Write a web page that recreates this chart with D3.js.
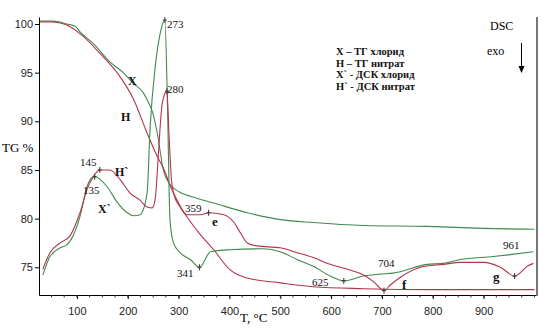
<!DOCTYPE html>
<html><head><meta charset="utf-8">
<script src="https://cdn.jsdelivr.net/npm/d3@7"></script>
<style>body{margin:0;background:#fff}svg{display:block}</style>
</head><body>
<svg id="c" width="546" height="333"></svg>
<script>
// TG chloride (X)
const tgXT = [27,50,67,80,96,106,132,165,191,211,231,241,249,258,270,285,303,336,369,435,500,565,664,789,900,1000];
const tgXV = [100.3,100.3,100.2,100.0,99.8,99.2,98.0,96.1,95.0,93.9,92.9,91.9,90.9,88.8,85.0,83.4,82.7,82.1,81.6,80.6,79.9,79.6,79.3,79.2,79.0,78.9];
// TG nitrate (H)
const tgHT = [27,50,67,80,113,145,179,212,238,258,270,285,303,336,369,402,435,500,565,664,800,1000];
const tgHV = [100.2,100.2,100.1,99.9,98.7,97.0,95.0,92.2,88.8,86.4,85.2,83.2,81.3,78.8,76.8,74.7,73.9,73.4,73.0,72.8,72.7,72.7];
// DSC chloride (X`)
const dscXT = [33,47,67,80,93,106,120,129,135,159,179,199,211,224,238,244,254,264,273,278,283,290,303,323,341,363,402,467,500,533,565,598,625,664,697,722,789,821,854,919,952,998];
const dscXV = [74.2,76.1,77.0,77.3,78.3,80.2,83.3,84.2,84.3,83.3,81.7,80.6,80.3,80.4,82.6,89.4,95.6,99.1,100.4,92.0,79.9,77.5,76.5,75.8,75.0,76.6,76.8,76.9,76.6,75.8,75.1,74.1,73.6,74.1,74.3,74.4,75.3,75.4,75.8,76.1,76.3,76.6];
// DSC nitrate (H`)
const dscHT = [33,47,67,86,106,120,132,145,165,185,205,224,238,248,254,258,262,268,277,281,286,290,303,316,343,359,389,409,422,435,454,500,533,565,598,632,664,684,704,717,737,776,821,854,900,933,961,986,998];
const dscHV = [74.8,76.5,77.5,78.2,80.6,83.0,84.3,85.0,85.0,84.0,82.6,81.9,81.2,81.1,82.0,84.7,88.1,91.9,93.1,88.8,84.0,82.6,81.2,80.4,80.4,80.6,80.4,79.6,78.5,77.5,77.2,77.0,76.5,76.0,75.3,74.8,74.2,73.5,72.6,73.2,74.0,75.0,75.3,75.5,75.5,75.0,74.1,75.1,75.4];
// peak markers
const peakT = [135,145,273,277,341,359,625,704,961];
const peakV = [84.3,85.0,100.4,93.1,75.0,80.6,73.6,72.6,74.1];
const xTicks = [100,200,300,400,500,600,700,800,900];
const yTicks = [75,80,85,90,95,100];
const legendLines = ["X – ТГ хлорид","H – ТГ нитрат","X` - ДСК хлорид","H` - ДСК нитрат"];

const GREEN = "#3f8a4e", RED = "#b3344c";
const svg = d3.select("#c");
const x = d3.scaleLinear().domain([25.4,1005]).range([39,537]);
const y = d3.scaleLinear().domain([72.15,100.72]).range([295,17]);

const line = d3.line().x(d=>x(d[0])).y(d=>y(d[1])).curve(d3.curveMonotoneX);
const zip = (a,b)=>a.map((t,i)=>[t,b[i]]);

// axes
const ya = svg.append("g").attr("transform","translate(39,0)")
  .call(d3.axisLeft(y).tickValues(yTicks).tickSize(4).tickSizeOuter(0).tickPadding(2));
ya.selectAll("text").attr("font-family","Liberation Sans").attr("font-size",11).attr("fill","#222");
const xa = svg.append("g").attr("transform","translate(0,295)")
  .call(d3.axisBottom(x).tickValues(xTicks).tickSize(4).tickSizeOuter(0).tickPadding(8));
xa.selectAll("text").attr("font-family","Liberation Sans").attr("font-size",11).attr("fill","#222");
svg.append("g").selectAll("line").data(d3.range(50,1001,25)).join("line")
  .attr("x1",d=>x(d)).attr("x2",d=>x(d)).attr("y1",295).attr("y2",297.5).attr("stroke","#333");
svg.append("line").attr("x1",537).attr("x2",537).attr("y1",17).attr("y2",296).attr("stroke","#777").attr("stroke-width",2);

// curves
[[tgXT,tgXV,GREEN],[tgHT,tgHV,RED],[dscXT,dscXV,GREEN],[dscHT,dscHV,RED]].forEach(([t,v,c])=>{
  svg.append("path").attr("d",line(zip(t,v))).attr("fill","none").attr("stroke",c).attr("stroke-width",1.1);
});
// markers
svg.append("g").selectAll("path").data(zip(peakT,peakV)).join("path")
  .attr("d",d=>`M${x(d[0])-2},${y(d[1])}h4M${x(d[0])},${y(d[1])-3}v6`).attr("stroke","#333").attr("stroke-width",1);

// annotations
const ann = [
 ["273",167,28,11,"normal"],["280",167,93,11,"normal"],["145",80,166,11,"normal"],["135",83,194,11,"normal"],
 ["359",185,212,11,"normal"],["341",177,277,11,"normal"],["625",312,286,11,"normal"],["704",378,267,11,"normal"],["961",503,249,11,"normal"],
 ["X",128,85,12,"bold"],["H",121,121,12,"bold"],["H`",115,176,12,"bold"],["X`",98,213,12,"bold"],
 ["e",212,226,13,"bold"],["f",402,289,13,"bold"],["g",493,281,13,"bold"]
];
svg.append("g").selectAll("text").data(ann).join("text")
  .attr("x",d=>d[1]).attr("y",d=>d[2]).attr("font-size",d=>d[3]).attr("font-weight",d=>d[4])
  .attr("font-family","Liberation Serif").attr("fill","#111").text(d=>d[0]);

svg.append("g").selectAll("text").data(legendLines).join("text")
  .attr("x",336).attr("y",(d,i)=>55+i*11.7).attr("font-family","Liberation Serif").attr("font-weight","bold")
  .attr("font-size",10.5).attr("fill","#111").text(d=>d);

svg.append("text").attr("x",490).attr("y",30).attr("font-family","Liberation Serif").attr("font-size",12).text("DSC");
svg.append("text").attr("x",487).attr("y",55).attr("font-family","Liberation Serif").attr("font-size",12).text("exo");
svg.append("line").attr("x1",521.5).attr("x2",521.5).attr("y1",43).attr("y2",68).attr("stroke","#000").attr("stroke-width",1);
svg.append("path").attr("d","M518.5,66 L524.5,66 L521.5,73 Z").attr("fill","#000");
svg.append("text").attr("x",2).attr("y",152).attr("font-family","Liberation Serif").attr("font-size",13).text("TG %");
svg.append("text").attr("x",240).attr("y",322).attr("font-family","Liberation Serif").attr("font-size",13).text("T, °C");
</script>
</body></html>
